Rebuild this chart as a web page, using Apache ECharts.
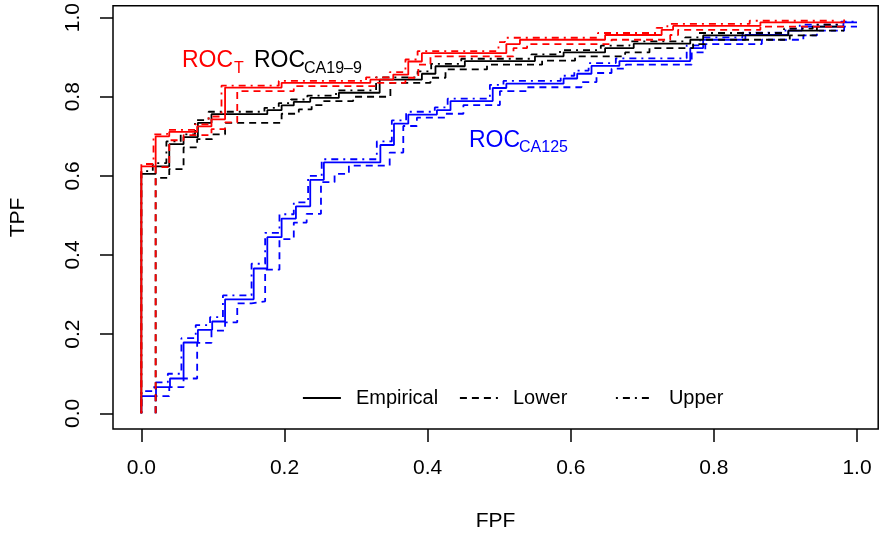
<!DOCTYPE html>
<html>
<head>
<meta charset="utf-8">
<script src="https://cdn.jsdelivr.net/npm/echarts@6/dist/echarts.min.js"></script>
<style>
html,body{margin:0;padding:0;background:#fff;}
#chart{width:882px;height:537px;}
</style>
</head>
<body>
<div id="chart"></div>
<script>
// ---- Data (FPF, TPF) step-curve vertices ----
const xTicks = [0, 0.2, 0.4, 0.6, 0.8, 1.0];
const yTicks = [0, 0.2, 0.4, 0.6, 0.8, 1.0];

const tEmp = [[0,0],[0,0.624],[0.02,0.70],[0.039,0.711],[0.078,0.725],[0.098,0.743],[0.117,0.823],[0.196,0.835],[0.32,0.843],[0.352,0.856],[0.373,0.889],[0.392,0.91],[0.51,0.933],[0.529,0.944],[0.648,0.956],[0.727,0.969],[0.743,0.979],[0.865,0.988],[0.982,0.995]];
const tLow = [[0.02,0],[0.02,0.622],[0.039,0.69],[0.059,0.703],[0.098,0.718],[0.117,0.735],[0.134,0.814],[0.213,0.827],[0.33,0.835],[0.369,0.848],[0.387,0.881],[0.404,0.902],[0.52,0.923],[0.539,0.933],[0.657,0.944],[0.739,0.956],[0.75,0.969],[0.865,0.977],[0.982,0.99]];
const tUpp = [[0,0],[0,0.63],[0.017,0.705],[0.036,0.716],[0.075,0.73],[0.094,0.75],[0.112,0.828],[0.192,0.84],[0.314,0.849],[0.347,0.862],[0.369,0.894],[0.386,0.915],[0.499,0.938],[0.508,0.949],[0.638,0.961],[0.72,0.974],[0.735,0.984],[0.85,0.992],[0.97,0.997]];

const caEmp = [[0,0],[0,0.605],[0.02,0.624],[0.039,0.68],[0.059,0.698],[0.079,0.734],[0.098,0.756],[0.176,0.766],[0.196,0.778],[0.213,0.787],[0.236,0.797],[0.276,0.81],[0.333,0.843],[0.392,0.858],[0.411,0.877],[0.452,0.89],[0.55,0.902],[0.59,0.912],[0.648,0.923],[0.688,0.934],[0.767,0.944],[0.785,0.955],[0.904,0.967],[0.944,0.977],[0.982,0.977]];
const caLow = [[0.02,0],[0.02,0.595],[0.039,0.617],[0.059,0.672],[0.078,0.693],[0.099,0.705],[0.117,0.734],[0.196,0.757],[0.22,0.768],[0.238,0.779],[0.255,0.789],[0.296,0.8],[0.348,0.835],[0.404,0.848],[0.425,0.869],[0.483,0.881],[0.56,0.891],[0.606,0.902],[0.676,0.912],[0.71,0.923],[0.771,0.933],[0.788,0.944],[0.906,0.955],[0.944,0.967],[0.982,0.967]];
const caUpp = [[0,0],[0,0.612],[0.016,0.632],[0.035,0.687],[0.055,0.705],[0.075,0.741],[0.094,0.762],[0.172,0.772],[0.192,0.784],[0.209,0.793],[0.232,0.803],[0.272,0.816],[0.328,0.849],[0.386,0.864],[0.405,0.883],[0.447,0.896],[0.545,0.907],[0.585,0.918],[0.642,0.929],[0.682,0.94],[0.76,0.95],[0.779,0.961],[0.898,0.972],[0.938,0.982],[0.975,0.985]];

const c125Emp = [[0,0],[0,0.0435],[0.0205,0.066],[0.04,0.088],[0.059,0.179],[0.079,0.211],[0.099,0.232],[0.117,0.288],[0.157,0.366],[0.176,0.445],[0.196,0.492],[0.216,0.523],[0.236,0.59],[0.255,0.634],[0.334,0.678],[0.353,0.732],[0.373,0.755],[0.413,0.766],[0.432,0.789],[0.491,0.822],[0.51,0.833],[0.59,0.846],[0.609,0.858],[0.629,0.878],[0.668,0.89],[0.767,0.923],[0.785,0.944],[0.844,0.956],[0.904,0.967],[0.923,0.977],[0.981,0.988],[1.0,0.988]];
const c125Low = [[0.02,0],[0.02,0.0435],[0.039,0.066],[0.059,0.088],[0.078,0.178],[0.098,0.209],[0.117,0.23],[0.134,0.278],[0.154,0.283],[0.173,0.363],[0.193,0.44],[0.213,0.482],[0.231,0.504],[0.251,0.584],[0.27,0.605],[0.29,0.626],[0.347,0.659],[0.366,0.726],[0.385,0.747],[0.425,0.757],[0.45,0.779],[0.501,0.814],[0.539,0.824],[0.615,0.837],[0.636,0.86],[0.657,0.871],[0.677,0.881],[0.769,0.912],[0.788,0.933],[0.867,0.944],[0.925,0.955],[0.944,0.967],[0.982,0.977],[1.0,0.977]];
const c125Upp = [[0,0],[0,0.056],[0.018,0.078],[0.037,0.1],[0.056,0.19],[0.076,0.223],[0.096,0.243],[0.114,0.298],[0.154,0.378],[0.173,0.456],[0.193,0.503],[0.213,0.533],[0.233,0.6],[0.252,0.642],[0.329,0.687],[0.35,0.74],[0.37,0.762],[0.41,0.773],[0.428,0.795],[0.487,0.83],[0.506,0.84],[0.586,0.853],[0.605,0.866],[0.625,0.885],[0.663,0.897],[0.762,0.93],[0.781,0.95],[0.84,0.962],[0.9,0.972],[0.92,0.982],[0.978,0.99],[1.0,0.99]];

const legendNames = ['Empirical', 'Lower', 'Upper'];

// ---- Styles ----
const FONT = 'Liberation Sans, Arial, Helvetica, sans-serif';
const RED = '#ff0000', BLACK = '#000000', BLUE = '#0000ff';
const LW = 1.8;
const DASH = [7, 5];
const DOTDASH = [2, 5, 7, 5];

function stepSeries(name, data, color, type, z) {
  return {
    name: name, type: 'line', step: 'end', data: data,
    symbol: 'none', showSymbol: false, silent: true, z: z,
    lineStyle: { color: color, width: LW, type: type },
    itemStyle: { color: color }
  };
}

const chart = echarts.init(document.getElementById('chart'), null, { renderer: 'canvas' });

const series = [
  stepSeries('c125Low', c125Low, BLUE, DASH, 2),
  stepSeries('c125Upp', c125Upp, BLUE, DOTDASH, 2),
  stepSeries('c125Emp', c125Emp, BLUE, 'solid', 3),
  stepSeries('caLow', caLow, BLACK, DASH, 4),
  stepSeries('caUpp', caUpp, BLACK, DOTDASH, 4),
  stepSeries('caEmp', caEmp, BLACK, 'solid', 5),
  stepSeries('tLow', tLow, RED, DASH, 6),
  stepSeries('tUpp', tUpp, RED, DOTDASH, 6),
  stepSeries('tEmp', tEmp, RED, 'solid', 7),
  stepSeries(legendNames[0], [], BLACK, 'solid', 1),
  stepSeries(legendNames[1], [], BLACK, DASH, 1),
  stepSeries(legendNames[2], [], BLACK, DOTDASH, 1)
];

function legendAt(name, left) {
  return {
    data: [name], left: left, top: 388, padding: 0, orient: 'horizontal',
    itemWidth: 38, itemHeight: 20, selectedMode: false,
    itemStyle: { opacity: 0 },
    lineStyle: { width: LW },
    textStyle: { fontFamily: FONT, fontSize: 20, color: BLACK, padding: [0, 0, 0, 10] }
  };
}

const axisFont = { fontFamily: FONT, fontSize: 21, color: BLACK };

const option = {
  animation: false,
  backgroundColor: '#ffffff',
  grid: { left: 112.6, right: 3.8, top: 4.2, bottom: 107.2, show: true, borderColor: BLACK, borderWidth: 1.5, backgroundColor: 'transparent', containLabel: false },
  xAxis: {
    type: 'value', min: -0.0396, max: 1.0296,
    name: 'FPF', nameLocation: 'middle', nameGap: 82,
    nameTextStyle: axisFont,
    axisLine: { show: false, onZero: false },
    splitLine: { show: false },
    axisTick: { show: true, inside: false, length: 13, customValues: xTicks, lineStyle: { color: BLACK, width: 1.5 } },
    axisLabel: { show: true, customValues: xTicks, margin: 29, formatter: v => v.toFixed(1), ...axisFont }
  },
  yAxis: {
    type: 'value', min: -0.0396, max: 1.0296,
    name: 'TPF', nameLocation: 'middle', nameGap: 84, nameRotate: 90,
    nameTextStyle: axisFont,
    axisLine: { show: false, onZero: false },
    splitLine: { show: false },
    axisTick: { show: true, inside: false, length: 13, customValues: yTicks, lineStyle: { color: BLACK, width: 1.5 } },
    axisLabel: { show: true, customValues: yTicks, margin: 29, rotate: 90, formatter: v => v.toFixed(1), ...axisFont }
  },
  legend: [legendAt(legendNames[0], 302), legendAt(legendNames[1], 459), legendAt(legendNames[2], 615)],
  graphic: [
    { type: 'text', left: 182, top: 49, style: { text: 'ROC', fontFamily: FONT, fontSize: 23, fill: RED } },
    { type: 'text', left: 234, top: 61, style: { text: 'T', fontFamily: FONT, fontSize: 16, fill: RED } },
    { type: 'text', left: 254, top: 49, style: { text: 'ROC', fontFamily: FONT, fontSize: 23, fill: BLACK } },
    { type: 'text', left: 304, top: 61, style: { text: 'CA19\u20139', fontFamily: FONT, fontSize: 16, fill: BLACK } },
    { type: 'text', left: 469, top: 129, style: { text: 'ROC', fontFamily: FONT, fontSize: 23, fill: BLUE } },
    { type: 'text', left: 519, top: 140, style: { text: 'CA125', fontFamily: FONT, fontSize: 16, fill: BLUE } }
  ],
  series: series
};

chart.setOption(option);
</script>
</body>
</html>
